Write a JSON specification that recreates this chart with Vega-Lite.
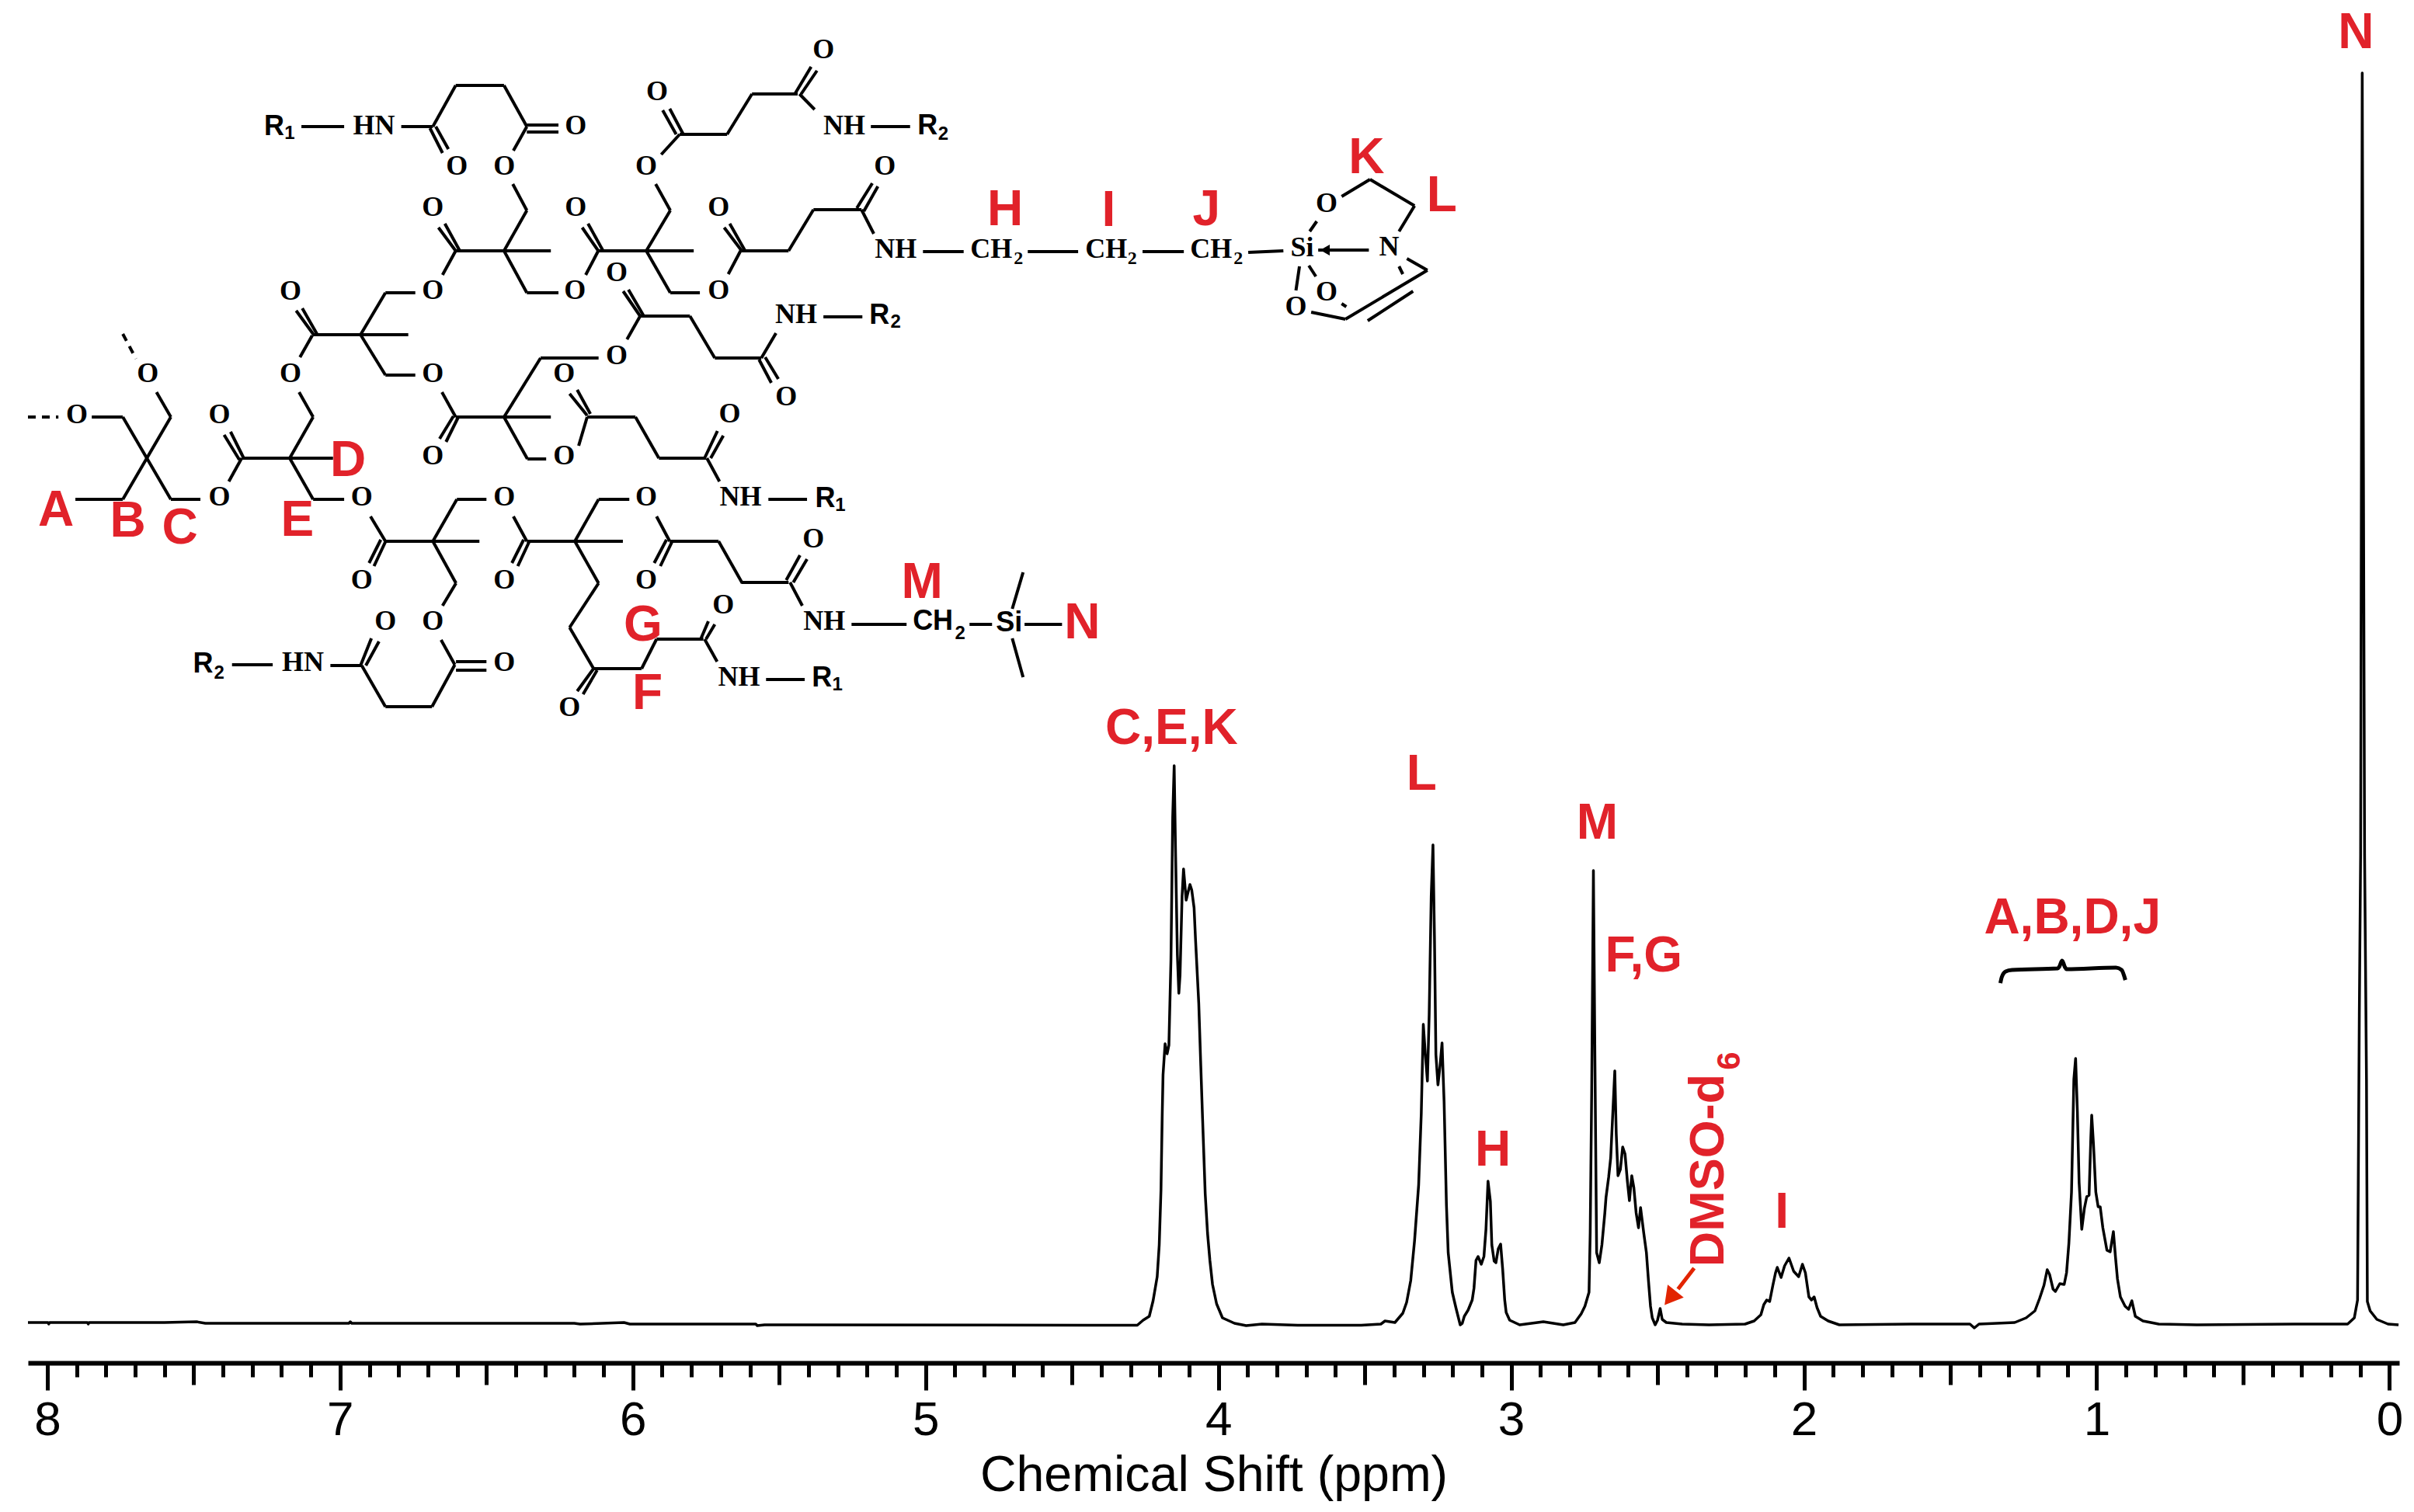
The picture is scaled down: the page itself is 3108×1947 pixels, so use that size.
{"$schema":"https://vega.github.io/schema/vega-lite/v6.json","width":3053,"height":1755,"autosize":{"type":"none"},"padding":{"left":36,"top":0,"right":19,"bottom":192},"background":"white","config":{"view":{"stroke":null},"axis":{"grid":false}},"datasets":{"spectrum":[{"ppm":8.066,"int":2},{"ppm":7.998,"int":2},{"ppm":7.995,"int":0},{"ppm":7.992,"int":2},{"ppm":7.863,"int":2},{"ppm":7.86,"int":0},{"ppm":7.857,"int":2},{"ppm":7.6,"int":2},{"ppm":7.49,"int":3},{"ppm":7.46,"int":1},{"ppm":6.97,"int":1},{"ppm":6.965,"int":3},{"ppm":6.96,"int":1},{"ppm":6.2,"int":1},{"ppm":6.18,"int":0},{"ppm":6.03,"int":2},{"ppm":6.01,"int":0},{"ppm":5.58,"int":0},{"ppm":5.575,"int":-2},{"ppm":5.55,"int":-1},{"ppm":4.446,"int":-1.5},{"ppm":4.277,"int":-1.5},{"ppm":4.257,"int":5},{"ppm":4.236,"int":10},{"ppm":4.223,"int":30},{"ppm":4.209,"int":61},{"ppm":4.202,"int":102},{"ppm":4.196,"int":173},{"ppm":4.192,"int":265},{"ppm":4.189,"int":321},{"ppm":4.182,"int":361},{"ppm":4.175,"int":348},{"ppm":4.169,"int":359},{"ppm":4.162,"int":469},{"ppm":4.156,"int":653},{"ppm":4.151,"int":719},{"ppm":4.146,"int":602},{"ppm":4.14,"int":475},{"ppm":4.135,"int":426},{"ppm":4.131,"int":449},{"ppm":4.124,"int":551},{"ppm":4.119,"int":586},{"ppm":4.11,"int":546},{"ppm":4.105,"int":554},{"ppm":4.097,"int":566},{"ppm":4.091,"int":559},{"ppm":4.083,"int":536},{"ppm":4.078,"int":495},{"ppm":4.067,"int":413},{"ppm":4.06,"int":332},{"ppm":4.054,"int":265},{"ppm":4.045,"int":168},{"ppm":4.037,"int":117},{"ppm":4.029,"int":82},{"ppm":4.02,"int":51},{"ppm":4.006,"int":26},{"ppm":3.986,"int":8},{"ppm":3.945,"int":1},{"ppm":3.905,"int":-2},{"ppm":3.851,"int":0},{"ppm":3.729,"int":-1.5},{"ppm":3.512,"int":-1.5},{"ppm":3.445,"int":0},{"ppm":3.431,"int":4},{"ppm":3.397,"int":2},{"ppm":3.37,"int":14},{"ppm":3.357,"int":28},{"ppm":3.343,"int":56},{"ppm":3.33,"int":107},{"ppm":3.316,"int":179},{"ppm":3.307,"int":271},{"ppm":3.3,"int":386},{"ppm":3.293,"int":347},{"ppm":3.286,"int":313},{"ppm":3.28,"int":398},{"ppm":3.273,"int":551},{"ppm":3.267,"int":617},{"ppm":3.262,"int":500},{"ppm":3.257,"int":347},{"ppm":3.25,"int":308},{"ppm":3.243,"int":332},{"ppm":3.236,"int":362},{"ppm":3.229,"int":286},{"ppm":3.221,"int":153},{"ppm":3.215,"int":92},{"ppm":3.201,"int":41},{"ppm":3.188,"int":20},{"ppm":3.174,"int":-1},{"ppm":3.167,"int":1},{"ppm":3.16,"int":10},{"ppm":3.147,"int":18},{"ppm":3.133,"int":31},{"ppm":3.127,"int":46},{"ppm":3.12,"int":82},{"ppm":3.113,"int":87},{"ppm":3.102,"int":77},{"ppm":3.093,"int":87},{"ppm":3.086,"int":122},{"ppm":3.079,"int":184},{"ppm":3.071,"int":158},{"ppm":3.066,"int":102},{"ppm":3.058,"int":81},{"ppm":3.052,"int":79},{"ppm":3.044,"int":97},{"ppm":3.036,"int":103},{"ppm":3.029,"int":71},{"ppm":3.022,"int":31},{"ppm":3.017,"int":15},{"ppm":3.005,"int":5},{"ppm":2.971,"int":-1},{"ppm":2.89,"int":3},{"ppm":2.822,"int":-1},{"ppm":2.782,"int":2},{"ppm":2.761,"int":13},{"ppm":2.748,"int":23},{"ppm":2.734,"int":41},{"ppm":2.73,"int":117},{"ppm":2.725,"int":296},{"ppm":2.719,"int":584},{"ppm":2.714,"int":347},{"ppm":2.708,"int":92},{"ppm":2.699,"int":79},{"ppm":2.69,"int":102},{"ppm":2.68,"int":143},{"ppm":2.676,"int":163},{"ppm":2.667,"int":189},{"ppm":2.66,"int":214},{"ppm":2.653,"int":270},{"ppm":2.646,"int":326},{"ppm":2.641,"int":245},{"ppm":2.635,"int":191},{"ppm":2.627,"int":199},{"ppm":2.619,"int":228},{"ppm":2.611,"int":219},{"ppm":2.603,"int":184},{"ppm":2.596,"int":159},{"ppm":2.588,"int":191},{"ppm":2.581,"int":176},{"ppm":2.573,"int":143},{"ppm":2.565,"int":124},{"ppm":2.558,"int":150},{"ppm":2.547,"int":117},{"ppm":2.538,"int":92},{"ppm":2.531,"int":56},{"ppm":2.524,"int":23},{"ppm":2.518,"int":8},{"ppm":2.508,"int":-1},{"ppm":2.5,"int":5},{"ppm":2.491,"int":20},{"ppm":2.484,"int":6},{"ppm":2.47,"int":2},{"ppm":2.416,"int":0},{"ppm":2.324,"int":-1},{"ppm":2.201,"int":0},{"ppm":2.17,"int":4},{"ppm":2.147,"int":12},{"ppm":2.137,"int":25},{"ppm":2.127,"int":31},{"ppm":2.117,"int":29},{"ppm":2.106,"int":50},{"ppm":2.097,"int":66},{"ppm":2.091,"int":73},{"ppm":2.078,"int":60},{"ppm":2.066,"int":75},{"ppm":2.051,"int":85},{"ppm":2.035,"int":68},{"ppm":2.018,"int":61},{"ppm":2.005,"int":77},{"ppm":1.995,"int":66},{"ppm":1.983,"int":35},{"ppm":1.974,"int":31},{"ppm":1.965,"int":35},{"ppm":1.955,"int":21},{"ppm":1.943,"int":10},{"ppm":1.917,"int":4},{"ppm":1.879,"int":-1},{"ppm":1.633,"int":0},{"ppm":1.433,"int":0},{"ppm":1.418,"int":-5},{"ppm":1.402,"int":0},{"ppm":1.28,"int":2},{"ppm":1.241,"int":8},{"ppm":1.211,"int":17},{"ppm":1.195,"int":33},{"ppm":1.18,"int":50},{"ppm":1.169,"int":70},{"ppm":1.161,"int":64},{"ppm":1.149,"int":45},{"ppm":1.141,"int":42},{"ppm":1.126,"int":52},{"ppm":1.111,"int":51},{"ppm":1.103,"int":66},{"ppm":1.095,"int":104},{"ppm":1.086,"int":170},{"ppm":1.078,"int":315},{"ppm":1.072,"int":342},{"ppm":1.066,"int":274},{"ppm":1.06,"int":182},{"ppm":1.051,"int":122},{"ppm":1.042,"int":149},{"ppm":1.034,"int":164},{"ppm":1.026,"int":166},{"ppm":1.02,"int":240},{"ppm":1.017,"int":269},{"ppm":1.011,"int":232},{"ppm":1.003,"int":170},{"ppm":0.995,"int":151},{"ppm":0.988,"int":151},{"ppm":0.979,"int":124},{"ppm":0.965,"int":95},{"ppm":0.954,"int":93},{"ppm":0.943,"int":119},{"ppm":0.936,"int":87},{"ppm":0.929,"int":58},{"ppm":0.919,"int":35},{"ppm":0.903,"int":23},{"ppm":0.891,"int":19},{"ppm":0.88,"int":30},{"ppm":0.868,"int":10},{"ppm":0.842,"int":4},{"ppm":0.788,"int":0},{"ppm":0.658,"int":-1},{"ppm":0.327,"int":0},{"ppm":0.143,"int":0},{"ppm":0.12,"int":8},{"ppm":0.109,"int":31},{"ppm":0.103,"int":398},{"ppm":0.0985,"int":605},{"ppm":0.093,"int":1611},{"ppm":0.085,"int":605},{"ppm":0.0785,"int":315},{"ppm":0.0755,"int":29},{"ppm":0.066,"int":17},{"ppm":0.043,"int":6},{"ppm":0.005,"int":0},{"ppm":-0.031,"int":-1}],"brace":[{"ppm":1.329,"int":439},{"ppm":1.324,"int":447},{"ppm":1.311,"int":454},{"ppm":1.289,"int":456},{"ppm":1.133,"int":458},{"ppm":1.128,"int":460},{"ppm":1.118,"int":468},{"ppm":1.109,"int":460},{"ppm":1.103,"int":457},{"ppm":0.934,"int":459},{"ppm":0.915,"int":456},{"ppm":0.902,"int":443}],"dashed":[{"ppm":8.066,"int":1168,"ppm2":7.962,"int2":1168},{"ppm":7.742,"int":1275,"ppm2":7.697,"int2":1243}],"bonds":[{"ppm":7.848,"int":1168,"ppm2":7.742,"int2":1168},{"ppm":7.742,"int":1168,"ppm2":7.66,"int2":1115},{"ppm":7.66,"int":1115,"ppm2":7.578,"int2":1168},{"ppm":7.578,"int":1168,"ppm2":7.627,"int2":1200},{"ppm":7.66,"int":1115,"ppm2":7.742,"int2":1062},{"ppm":7.742,"int":1062,"ppm2":7.904,"int2":1062},{"ppm":7.66,"int":1115,"ppm2":7.578,"int2":1062},{"ppm":7.578,"int":1062,"ppm2":7.477,"int2":1062},{"ppm":7.38,"int":1085,"ppm2":7.336,"int2":1115},{"ppm":7.329,"int":1115,"ppm2":7.374,"int2":1149},{"ppm":7.344,"int":1113,"ppm2":7.396,"int2":1145},{"ppm":7.336,"int":1115,"ppm2":7.172,"int2":1115},{"ppm":7.172,"int":1115,"ppm2":7.024,"int2":1115},{"ppm":7.172,"int":1115,"ppm2":7.092,"int2":1168},{"ppm":7.092,"int":1168,"ppm2":7.14,"int2":1200},{"ppm":7.137,"int":1245,"ppm2":7.095,"int2":1273},{"ppm":7.092,"int":1275,"ppm2":7.15,"int2":1305},{"ppm":7.079,"int":1275,"ppm2":7.129,"int2":1308},{"ppm":7.095,"int":1274,"ppm2":6.93,"int2":1274},{"ppm":6.93,"int":1274,"ppm2":6.767,"int2":1274},{"ppm":6.93,"int":1274,"ppm2":6.845,"int2":1328},{"ppm":6.845,"int":1328,"ppm2":6.743,"int2":1328},{"ppm":6.65,"int":1351,"ppm2":6.605,"int2":1382},{"ppm":6.605,"int":1382,"ppm2":6.664,"int2":1412},{"ppm":6.591,"int":1382,"ppm2":6.642,"int2":1417},{"ppm":6.605,"int":1382,"ppm2":6.44,"int2":1382},{"ppm":6.44,"int":1382,"ppm2":6.28,"int2":1382},{"ppm":6.44,"int":1382,"ppm2":6.362,"int2":1434},{"ppm":6.362,"int":1434,"ppm2":6.41,"int2":1468},{"ppm":6.408,"int":1511,"ppm2":6.362,"int2":1542},{"ppm":6.362,"int":1544,"ppm2":6.254,"int2":1544},{"ppm":6.362,"int":1535,"ppm2":6.254,"int2":1535},{"ppm":6.362,"int":1542,"ppm2":6.44,"int2":1595},{"ppm":6.44,"int":1595,"ppm2":6.605,"int2":1595},{"ppm":6.605,"int":1595,"ppm2":6.683,"int2":1542},{"ppm":6.693,"int":1540,"ppm2":6.65,"int2":1508},{"ppm":6.673,"int":1542,"ppm2":6.63,"int2":1513},{"ppm":6.683,"int":1542,"ppm2":6.791,"int2":1542},{"ppm":6.986,"int":1542,"ppm2":7.132,"int2":1542},{"ppm":6.44,"int":1382,"ppm2":6.362,"int2":1328},{"ppm":6.362,"int":1328,"ppm2":6.254,"int2":1328},{"ppm":6.161,"int":1351,"ppm2":6.118,"int2":1382},{"ppm":6.118,"int":1382,"ppm2":6.173,"int2":1412},{"ppm":6.103,"int":1383,"ppm2":6.153,"int2":1417},{"ppm":6.118,"int":1382,"ppm2":5.954,"int2":1382},{"ppm":5.954,"int":1382,"ppm2":5.792,"int2":1382},{"ppm":5.954,"int":1382,"ppm2":5.872,"int2":1434},{"ppm":5.872,"int":1434,"ppm2":5.922,"int2":1468},{"ppm":5.903,"int":1506,"ppm2":5.84,"int2":1532},{"ppm":5.852,"int":1532,"ppm2":5.898,"int2":1563},{"ppm":5.829,"int":1533,"ppm2":5.874,"int2":1565},{"ppm":5.84,"int":1532,"ppm2":5.678,"int2":1532},{"ppm":5.678,"int":1532,"ppm2":5.593,"int2":1584},{"ppm":5.593,"int":1584,"ppm2":5.437,"int2":1584},{"ppm":5.445,"int":1585,"ppm2":5.391,"int2":1619},{"ppm":5.425,"int":1584,"ppm2":5.371,"int2":1614},{"ppm":5.431,"int":1584,"ppm2":5.379,"int2":1564},{"ppm":5.187,"int":1542,"ppm2":5.053,"int2":1542},{"ppm":5.954,"int":1382,"ppm2":5.872,"int2":1328},{"ppm":5.872,"int":1328,"ppm2":5.771,"int2":1328},{"ppm":5.674,"int":1352,"ppm2":5.632,"int2":1382},{"ppm":5.628,"int":1382,"ppm2":5.688,"int2":1412},{"ppm":5.618,"int":1383,"ppm2":5.669,"int2":1417},{"ppm":5.63,"int":1382,"ppm2":5.468,"int2":1382},{"ppm":5.468,"int":1382,"ppm2":5.383,"int2":1435},{"ppm":5.383,"int":1435,"ppm2":5.219,"int2":1435},{"ppm":5.235,"int":1437,"ppm2":5.182,"int2":1469},{"ppm":5.211,"int":1433,"ppm2":5.163,"int2":1465},{"ppm":5.219,"int":1435,"ppm2":5.177,"int2":1404},{"ppm":5.009,"int":1381,"ppm2":4.87,"int2":1381},{"ppm":4.651,"int":1381,"ppm2":4.479,"int2":1381},{"ppm":4.259,"int":1381,"ppm2":4.118,"int2":1381},{"ppm":3.898,"int":1380,"ppm2":3.778,"int2":1382},{"ppm":3.486,"int":1383,"ppm2":3.659,"int2":1383},{"ppm":3.688,"int":1407,"ppm2":3.664,"int2":1420},{"ppm":3.579,"int":1452,"ppm2":3.482,"int2":1474},{"ppm":3.482,"int":1474,"ppm2":3.33,"int2":1440},{"ppm":3.33,"int":1440,"ppm2":3.383,"int2":1407},{"ppm":3.356,"int":1372,"ppm2":3.286,"int2":1357},{"ppm":3.286,"int":1357,"ppm2":3.566,"int2":1294},{"ppm":3.566,"int":1294,"ppm2":3.683,"int2":1303},{"ppm":3.735,"int":1331,"ppm2":3.723,"int2":1362},{"ppm":3.691,"int":1363,"ppm2":3.667,"int2":1349},{"ppm":3.579,"int":1314,"ppm2":3.563,"int2":1310},{"ppm":3.383,"int":1362,"ppm2":3.37,"int2":1352},{"ppm":3.335,"int":1330,"ppm2":3.49,"int2":1292},{"ppm":7.172,"int":1115,"ppm2":7.092,"int2":1062},{"ppm":7.092,"int":1062,"ppm2":6.986,"int2":1062},{"ppm":6.896,"int":1040,"ppm2":6.845,"int2":1008},{"ppm":6.845,"int":1008,"ppm2":6.683,"int2":1008},{"ppm":6.683,"int":1008,"ppm2":6.524,"int2":1008},{"ppm":6.843,"int":1009,"ppm2":6.884,"int2":976},{"ppm":6.861,"int":1010,"ppm2":6.901,"int2":980},{"ppm":6.683,"int":1008,"ppm2":6.604,"int2":954},{"ppm":6.604,"int":954,"ppm2":6.65,"int2":925},{"ppm":6.655,"int":881,"ppm2":6.608,"int2":849},{"ppm":6.604,"int":853,"ppm2":6.5,"int2":853},{"ppm":6.604,"int":842,"ppm2":6.5,"int2":842},{"ppm":6.608,"int":849,"ppm2":6.686,"int2":795},{"ppm":6.686,"int":795,"ppm2":6.845,"int2":795},{"ppm":6.845,"int":795,"ppm2":6.926,"int2":848},{"ppm":6.926,"int":848,"ppm2":7.033,"int2":848},{"ppm":6.93,"int":848,"ppm2":6.893,"int2":883},{"ppm":6.912,"int":848,"ppm2":6.867,"int2":879},{"ppm":7.23,"int":849,"ppm2":7.369,"int2":849},{"ppm":6.5,"int":1062,"ppm2":6.601,"int2":1062},{"ppm":6.601,"int":1062,"ppm2":6.683,"int2":1008},{"ppm":6.408,"int":1040,"ppm2":6.362,"int2":1008},{"ppm":6.362,"int":1008,"ppm2":6.198,"int2":1008},{"ppm":6.198,"int":1008,"ppm2":6.034,"int2":1008},{"ppm":6.352,"int":1009,"ppm2":6.393,"int2":976},{"ppm":6.373,"int":1010,"ppm2":6.413,"int2":980},{"ppm":6.198,"int":1008,"ppm2":6.117,"int2":1062},{"ppm":6.117,"int":1062,"ppm2":6.012,"int2":1062},{"ppm":5.919,"int":1040,"ppm2":5.874,"int2":1008},{"ppm":5.874,"int":1008,"ppm2":5.707,"int2":1008},{"ppm":5.707,"int":1008,"ppm2":5.626,"int2":954},{"ppm":5.628,"int":955,"ppm2":5.468,"int2":955},{"ppm":5.864,"int":1009,"ppm2":5.906,"int2":976},{"ppm":5.885,"int":1010,"ppm2":5.927,"int2":980},{"ppm":6.198,"int":1008,"ppm2":6.117,"int2":954},{"ppm":6.117,"int":954,"ppm2":6.216,"int2":897},{"ppm":6.216,"int":897,"ppm2":6.134,"int2":844},{"ppm":6.134,"int":844,"ppm2":5.97,"int2":844},{"ppm":5.97,"int":844,"ppm2":5.919,"int2":882},{"ppm":5.919,"int":882,"ppm2":5.759,"int2":882},{"ppm":5.767,"int":883,"ppm2":5.742,"int2":905},{"ppm":5.75,"int":882,"ppm2":5.72,"int2":901},{"ppm":5.755,"int":882,"ppm2":5.712,"int2":853},{"ppm":6.134,"int":844,"ppm2":6.19,"int2":815},{"ppm":6.122,"int":842,"ppm2":6.17,"int2":811},{"ppm":6.605,"int":1168,"ppm2":6.44,"int2":1168},{"ppm":6.44,"int":1168,"ppm2":6.28,"int2":1168},{"ppm":6.605,"int":1168,"ppm2":6.652,"int2":1200},{"ppm":6.845,"int":1222,"ppm2":6.743,"int2":1222},{"ppm":6.93,"int":1274,"ppm2":6.845,"int2":1222},{"ppm":6.596,"int":1168,"ppm2":6.638,"int2":1136},{"ppm":6.613,"int":1169,"ppm2":6.66,"int2":1140},{"ppm":6.44,"int":1168,"ppm2":6.315,"int2":1244},{"ppm":6.315,"int":1244,"ppm2":6.117,"int2":1244},{"ppm":6.02,"int":1268,"ppm2":5.975,"int2":1298},{"ppm":5.975,"int":1298,"ppm2":6.033,"int2":1330},{"ppm":5.964,"int":1299,"ppm2":6.015,"int2":1332},{"ppm":5.975,"int":1298,"ppm2":5.805,"int2":1298},{"ppm":5.805,"int":1298,"ppm2":5.72,"int2":1244},{"ppm":5.72,"int":1244,"ppm2":5.561,"int2":1244},{"ppm":5.561,"int":1244,"ppm2":5.511,"int2":1276},{"ppm":5.569,"int":1242,"ppm2":5.527,"int2":1212},{"ppm":5.548,"int":1245,"ppm2":5.503,"int2":1217},{"ppm":5.349,"int":1297,"ppm2":5.216,"int2":1297},{"ppm":6.44,"int":1168,"ppm2":6.36,"int2":1114},{"ppm":6.36,"int":1114,"ppm2":6.296,"int2":1114},{"ppm":6.185,"int":1131,"ppm2":6.156,"int2":1168},{"ppm":6.156,"int":1170,"ppm2":6.216,"int2":1198},{"ppm":6.145,"int":1172,"ppm2":6.19,"int2":1203},{"ppm":6.156,"int":1168,"ppm2":5.991,"int2":1168},{"ppm":5.991,"int":1168,"ppm2":5.911,"int2":1115},{"ppm":5.911,"int":1115,"ppm2":5.75,"int2":1115},{"ppm":5.755,"int":1115,"ppm2":5.711,"int2":1150},{"ppm":5.734,"int":1115,"ppm2":5.691,"int2":1144},{"ppm":5.747,"int":1115,"ppm2":5.704,"int2":1085},{"ppm":5.537,"int":1062,"ppm2":5.405,"int2":1062},{"ppm":5.476,"int":958,"ppm2":5.429,"int2":990},{"ppm":5.452,"int":955,"ppm2":5.405,"int2":985},{"ppm":5.463,"int":955,"ppm2":5.421,"int2":925},{"ppm":5.253,"int":901,"ppm2":5.065,"int2":901},{"ppm":4.85,"int":901,"ppm2":4.773,"int2":901},{"ppm":4.662,"int":901,"ppm2":4.534,"int2":901},{"ppm":4.704,"int":921,"ppm2":4.667,"int2":968},{"ppm":4.704,"int":883,"ppm2":4.667,"int2":833},{"ppm":5.545,"int":830,"ppm2":5.413,"int2":830}],"atoms":[{"t":"O","ppm":7.899,"int":1171},{"t":"O","ppm":7.657,"int":1224},{"t":"O","ppm":7.412,"int":1065},{"t":"O","ppm":7.412,"int":1171},{"t":"O","ppm":7.169,"int":1224},{"t":"O","ppm":7.169,"int":1330},{"t":"O","ppm":6.683,"int":1331},{"t":"O","ppm":6.683,"int":1438},{"t":"O","ppm":6.439,"int":1491},{"t":"O","ppm":6.195,"int":1543},{"t":"O","ppm":6.601,"int":1491},{"t":"O","ppm":6.198,"int":1331},{"t":"O","ppm":6.195,"int":1438},{"t":"O","ppm":5.954,"int":1491},{"t":"O","ppm":5.917,"int":1587},{"t":"O","ppm":5.349,"int":1641},{"t":"O","ppm":5.707,"int":1331},{"t":"O","ppm":5.707,"int":1438},{"t":"O","ppm":5.139,"int":1491},{"t":"O","ppm":3.63,"int":1443},{"t":"O","ppm":3.735,"int":1310},{"t":"O","ppm":3.63,"int":1329},{"t":"O","ppm":6.926,"int":1065},{"t":"O","ppm":6.926,"int":958},{"t":"O","ppm":6.683,"int":905},{"t":"O","ppm":6.439,"int":852},{"t":"O","ppm":6.845,"int":905},{"t":"O","ppm":6.683,"int":1224},{"t":"O","ppm":6.683,"int":1118},{"t":"O","ppm":6.055,"int":1247},{"t":"O","ppm":6.055,"int":1354},{"t":"O","ppm":6.235,"int":1224},{"t":"O","ppm":6.235,"int":1118},{"t":"O","ppm":5.669,"int":1172},{"t":"O","ppm":6.439,"int":1065},{"t":"O","ppm":6.439,"int":958},{"t":"O","ppm":5.954,"int":1065},{"t":"O","ppm":5.954,"int":958},{"t":"O","ppm":6.216,"int":794},{"t":"O","ppm":5.691,"int":926},{"t":"O","ppm":5.476,"int":1194},{"t":"O","ppm":5.383,"int":1011},{"t":"NH","ppm":5.632,"int":1065},{"t":"NH","ppm":5.637,"int":833},{"t":"NH","ppm":5.278,"int":1543},{"t":"NH","ppm":5.102,"int":1384},{"t":"NH","ppm":5.442,"int":1300},{"t":"NH","ppm":5.346,"int":905},{"t":"HN","ppm":6.884,"int":1543},{"t":"HN","ppm":7.127,"int":852},{"t":"N","ppm":3.417,"int":1387},{"t":"Si","ppm":3.714,"int":1386},{"t":"CH","ppm":4.776,"int":1384},{"t":"CH","ppm":4.383,"int":1384},{"t":"CH","ppm":4.025,"int":1384}],"atomSubs":[{"t":"2","ppm":4.683,"int":1372},{"t":"2","ppm":4.294,"int":1372},{"t":"2","ppm":3.932,"int":1372}],"groups":[{"t":"CH","ppm":4.975,"int":905},{"t":"Si","ppm":4.715,"int":903},{"t":"R","ppm":7.225,"int":1542},{"t":"R","ppm":4.993,"int":1543},{"t":"R","ppm":5.158,"int":1299},{"t":"R","ppm":5.343,"int":1063},{"t":"R","ppm":5.354,"int":832},{"t":"R","ppm":7.468,"int":850}],"groupSubs":[{"t":"2","ppm":4.882,"int":889},{"t":"1","ppm":7.172,"int":1533},{"t":"2","ppm":4.94,"int":1532},{"t":"2","ppm":5.102,"int":1290},{"t":"1","ppm":5.291,"int":1054},{"t":"1","ppm":5.301,"int":823},{"t":"2","ppm":7.413,"int":838}],"labels":[{"t":"A","ppm":7.97,"int":1051},{"t":"B","ppm":7.725,"int":1037},{"t":"C","ppm":7.547,"int":1028},{"t":"D","ppm":6.973,"int":1115},{"t":"E","ppm":7.146,"int":1038},{"t":"F","ppm":5.95,"int":815},{"t":"G","ppm":5.965,"int":903},{"t":"H","ppm":4.728,"int":1438},{"t":"I","ppm":4.375,"int":1437},{"t":"J","ppm":4.041,"int":1438},{"t":"K","ppm":3.494,"int":1505},{"t":"L","ppm":3.237,"int":1456},{"t":"M","ppm":5.012,"int":958},{"t":"N","ppm":4.465,"int":906},{"t":"C,E,K","ppm":4.16,"int":770},{"t":"L","ppm":3.306,"int":711},{"t":"M","ppm":2.706,"int":648},{"t":"H","ppm":3.062,"int":227},{"t":"F,G","ppm":2.547,"int":477},{"t":"I","ppm":2.075,"int":147},{"t":"A,B,D,J","ppm":1.083,"int":526},{"t":"N","ppm":0.114,"int":1666}]},"data":{"name":"spectrum"},"encoding":{"x":{"field":"ppm","type":"quantitative","scale":{"domain":[8.066,-0.0334],"nice":false,"zero":false},"axis":null},"y":{"field":"int","type":"quantitative","scale":{"domain":[-50,1705],"nice":false,"zero":false},"axis":null}},"layer":[{"data":{"name":"spectrum"},"mark":{"type":"line","color":"black","strokeWidth":3.5,"strokeJoin":"round","interpolate":"linear"},"encoding":{"x":{"field":"ppm","type":"quantitative","axis":{"orient":"bottom","values":[0,1,2,3,4,5,6,7,8],"format":"d","title":"Chemical Shift (ppm)","titleFont":"Liberation Sans","titleFontSize":64.5,"titleFontWeight":"normal","titleColor":"black","titlePadding":9,"labelFont":"Liberation Sans","labelFontSize":62,"labelColor":"black","labelPadding":8,"labelOverlap":false,"labelFlush":false,"tickSize":35,"tickWidth":5,"tickColor":"black","domainWidth":6,"domainColor":"black","grid":false}}}},{"data":{"name":"bonds"},"mark":{"type":"rule","color":"black","strokeWidth":4},"encoding":{"x":{"field":"ppm","type":"quantitative","axis":{"orient":"bottom","values":[0.5,1.5,2.5,3.5,4.5,5.5,6.5,7.5],"labels":false,"title":null,"domain":false,"tickSize":28,"tickWidth":5,"tickColor":"black","grid":false}},"x2":{"field":"ppm2"},"y2":{"field":"int2"}}},{"data":{"name":"dashed"},"mark":{"type":"rule","color":"black","strokeWidth":4,"strokeDash":[10,8]},"encoding":{"x":{"field":"ppm","type":"quantitative","axis":{"orient":"bottom","values":[0.1,0.2,0.3,0.4,0.6,0.7,0.8,0.9,1.1,1.2,1.3,1.4,1.6,1.7,1.8,1.9,2.1,2.2,2.3,2.4,2.6,2.7,2.8,2.9,3.1,3.2,3.3,3.4,3.6,3.7,3.8,3.9,4.1,4.2,4.3,4.4,4.6,4.7,4.8,4.9,5.1,5.2,5.3,5.4,5.6,5.7,5.8,5.9,6.1,6.2,6.3,6.4,6.6,6.7,6.8,6.9,7.1,7.2,7.3,7.4,7.6,7.7,7.8,7.9],"labels":false,"title":null,"domain":false,"tickSize":18,"tickWidth":5,"tickColor":"black","grid":false}},"x2":{"field":"ppm2"},"y2":{"field":"int2"}}},{"data":{"name":"brace"},"mark":{"type":"line","color":"black","strokeWidth":5,"interpolate":"monotone"}},{"data":{"name":"atoms"},"mark":{"type":"text","font":"Liberation Serif","fontWeight":"bold","fontSize":36,"color":"black","baseline":"middle","align":"center"},"encoding":{"text":{"field":"t"}}},{"data":{"name":"atomSubs"},"mark":{"type":"text","font":"Liberation Serif","fontWeight":"bold","fontSize":24,"color":"black","baseline":"middle","align":"center"},"encoding":{"text":{"field":"t"}}},{"data":{"name":"groups"},"mark":{"type":"text","font":"Liberation Sans","fontWeight":"bold","fontSize":36,"color":"black","baseline":"middle","align":"center"},"encoding":{"text":{"field":"t"}}},{"data":{"name":"groupSubs"},"mark":{"type":"text","font":"Liberation Sans","fontWeight":"bold","fontSize":24,"color":"black","baseline":"middle","align":"center"},"encoding":{"text":{"field":"t"}}},{"data":{"name":"labels"},"mark":{"type":"text","font":"Liberation Sans","fontWeight":"bold","fontSize":64,"dy":4,"color":"#E1222A","baseline":"middle","align":"center"},"encoding":{"text":{"field":"t"}}},{"data":{"values":[{"t":"DMSO-d","ppm":2.325,"int":198}]},"mark":{"type":"text","font":"Liberation Sans","fontWeight":"bold","fontSize":63,"angle":270,"color":"#E1222A","baseline":"middle","align":"center"},"encoding":{"text":{"field":"t"}}},{"data":{"values":[{"t":"6","ppm":2.253,"int":339}]},"mark":{"type":"text","font":"Liberation Sans","fontWeight":"bold","fontSize":42,"angle":270,"color":"#E1222A","baseline":"middle","align":"center"},"encoding":{"text":{"field":"t"}}},{"data":{"values":[{"ppm":2.375,"int":72,"ppm2":2.43,"int2":45}]},"mark":{"type":"rule","color":"#E22400","strokeWidth":5},"encoding":{"x2":{"field":"ppm2"},"y2":{"field":"int2"}}},{"data":{"values":[{"ppm":2.457,"int":33.5}]},"mark":{"type":"point","shape":"triangle-up","filled":true,"opacity":1,"size":700,"angle":218.7,"color":"#E22400"}},{"data":{"values":[{"ppm":3.636,"int":1383}]},"mark":{"type":"point","shape":"triangle-left","filled":true,"opacity":1,"size":200,"color":"black"}}],"resolve":{"axis":{"x":"independent"}}}
